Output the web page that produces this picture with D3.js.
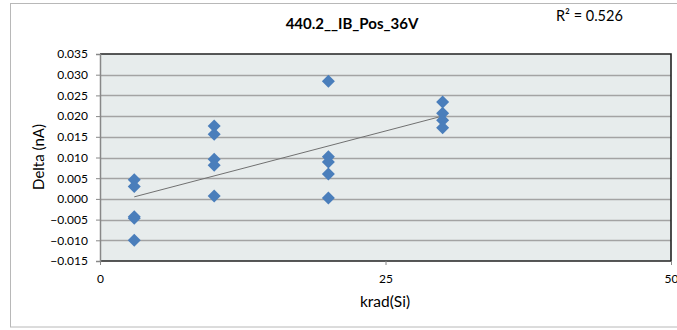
<!DOCTYPE html>
<html>
<head>
<meta charset="utf-8">
<script src="https://d3js.org/d3.v7.min.js"></script>
<style>
  body { margin: 0; background: #fff; }
  text { font-family: Lato, "Liberation Sans", sans-serif; fill: #000; }
</style>
</head>
<body>
<svg width="677" height="330"></svg>
<script>
// dose in krad(Si) and delta in nA
const dose3 = [3, 3, 3, 3, 3];
const delta3 = [0.0046, 0.0030, -0.0043, -0.0047, -0.0100];
const dose10 = [10, 10, 10, 10, 10];
const delta10 = [0.0176, 0.0156, 0.0096, 0.0081, 0.0007];
const dose20 = [20, 20, 20, 20, 20];
const delta20 = [0.0284, 0.0102, 0.0089, 0.0060, 0.0002];
const dose30 = [30, 30, 30, 30];
const delta30 = [0.0234, 0.0207, 0.0190, 0.0172];
const yTicks = [-0.015, -0.010, -0.005, 0, 0.005, 0.010, 0.015, 0.020, 0.025, 0.030, 0.035];
const xTicks = [0, 25, 50];
const title = "440.2__IB_Pos_36V";
const r2Label = "R² = 0.526";

const doses = [].concat(dose3, dose10, dose20, dose30);
const deltas = [].concat(delta3, delta10, delta20, delta30);
const points = doses.map((d, i) => ({x: d, y: deltas[i]}));

const svg = d3.select("svg");
const plotL = 100, plotR = 671, plotT = 54, plotB = 261;

const x = d3.scaleLinear().domain([0, 50]).range([plotL, plotR]);
const y = d3.scaleLinear().domain([-0.015, 0.035]).range([plotB, plotT]);

// outer chart border
svg.append("rect")
  .attr("x", 10.5).attr("y", 3.5).attr("width", 680).attr("height", 323.5)
  .attr("fill", "#fff").attr("stroke", "#b8b8b8");

// plot area
svg.append("rect")
  .attr("x", plotL).attr("y", plotT).attr("width", plotR - plotL).attr("height", plotB - plotT)
  .attr("fill", "#e7ecec");

// grid
svg.append("g").selectAll("line").data(yTicks.slice(1, -1)).enter().append("line")
  .attr("x1", plotL).attr("x2", plotR)
  .attr("y1", d => Math.round(y(d)) + 0.5).attr("y2", d => Math.round(y(d)) + 0.5)
  .attr("stroke", "#a3a3a3").attr("stroke-width", 1.3);

// plot frame: dark top/right/bottom
svg.append("path")
  .attr("d", `M${plotL},${plotT}H${plotR}V${plotB}H${plotL}`)
  .attr("fill", "none").attr("stroke", "#222").attr("stroke-width", 1.6);

// y axis
const yAxis = svg.append("g").attr("transform", `translate(${plotL},0)`)
  .call(d3.axisLeft(y).tickValues(yTicks).tickFormat(d3.format(".3f")).tickSize(4).tickPadding(8));
yAxis.select(".domain").attr("stroke", "#888").attr("stroke-width", 1.5);
yAxis.selectAll(".tick line").attr("stroke", "#888");
yAxis.selectAll("text").attr("font-size", 12).attr("font-family", "Lato, sans-serif");

// x axis
const xAxis = svg.append("g").attr("transform", `translate(0,${plotB})`)
  .call(d3.axisBottom(x).tickValues(xTicks).tickSize(4).tickPadding(9));
xAxis.select(".domain").remove();
xAxis.selectAll(".tick line").attr("stroke", "#888");
xAxis.selectAll("text").attr("font-size", 12).attr("font-family", "Lato, sans-serif");

// linear trend line (least squares)
const mx = d3.mean(doses), my = d3.mean(deltas);
const slope = d3.sum(points, p => (p.x - mx) * (p.y - my)) / d3.sum(points, p => (p.x - mx) ** 2);
const icpt = my - slope * mx;
const x0 = d3.min(doses), x1 = d3.max(doses);
svg.append("line")
  .attr("x1", x(x0)).attr("y1", y(icpt + slope * x0))
  .attr("x2", x(x1)).attr("y2", y(icpt + slope * x1))
  .attr("stroke", "#707070").attr("stroke-width", 1);

// diamond markers
svg.append("g").selectAll("path").data(points).enter().append("path")
  .attr("d", "M0,-6.5L6.5,0L0,6.5L-6.5,0Z")
  .attr("transform", d => `translate(${x(d.x)},${y(d.y)})`)
  .attr("fill", "#4a7ebb");

// texts
svg.append("text").attr("x", 352).attr("y", 29).attr("text-anchor", "middle")
  .attr("font-size", 15).attr("font-weight", "bold").text(title);
svg.append("text").attr("x", 556).attr("y", 21)
  .attr("font-size", 14.5).text(r2Label);
svg.append("text").attr("transform", "translate(44,157) rotate(-90)")
  .attr("text-anchor", "middle").attr("font-size", 15).text("Delta (nA)");
svg.append("text").attr("x", 385).attr("y", 307).attr("text-anchor", "middle")
  .attr("font-size", 15.5).text("krad(Si)");
</script>
</body>
</html>
